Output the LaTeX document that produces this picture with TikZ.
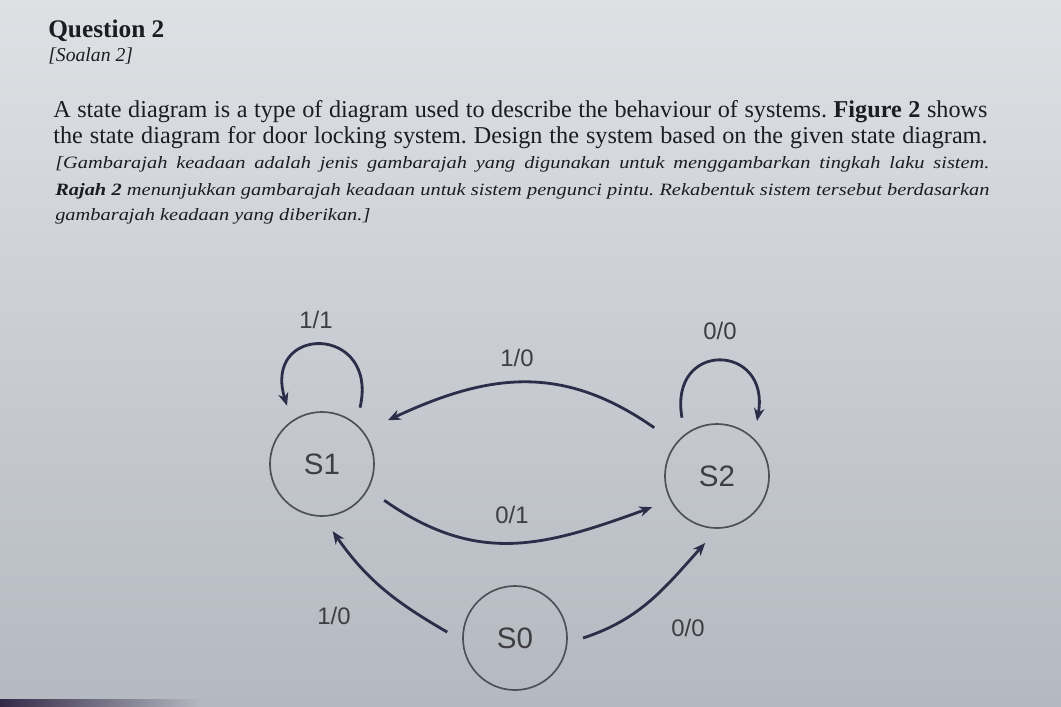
\documentclass[tikz,border=0pt]{standalone}
\usepackage{fontspec}
\setmainfont{Liberation Serif}
\setsansfont{Liberation Sans}
\newfontfamily\wideit[FakeStretch=1.18, UprightFont=*, ItalicFont=* Italic, BoldItalicFont=* Bold Italic]{Liberation Serif}
\usepackage{tikz}
\usetikzlibrary{arrows.meta, positioning}
\frenchspacing
\definecolor{bgtop}{RGB}{222,225,228}
\definecolor{bgbot}{RGB}{180,184,192}
\definecolor{inkdark}{RGB}{28,28,34}
\definecolor{edgecol}{RGB}{42,46,72}
\definecolor{circgrey}{RGB}{78,80,88}
\definecolor{bezel}{RGB}{52,42,72}
\newcommand{\fullline}[1]{\makebox[23.35cm][s]{#1}}
\tikzset{
  state/.style={circle, draw=circgrey, line width=1.2pt,
    minimum size=2.6cm, inner sep=0pt, outer sep=0.4cm,
    font=\sffamily\fontsize{21}{25}\selectfont, text=inkdark!85},
  lbl/.style={font=\sffamily\fontsize{17}{20}\selectfont, text=inkdark!85, inner sep=0pt},
  txtline/.style={anchor=base west, inner sep=0pt, text=inkdark},
  engline/.style={txtline, font=\fontsize{17.2}{20}\selectfont},
  mlyline/.style={txtline, font=\wideit\itshape\fontsize{12.3}{15}\selectfont},
  arrow/.style={-{Stealth[length=0.32cm, width=0.26cm]}, line width=2pt, color=edgecol}
}

\begin{document}
\begin{tikzpicture}[x=0.025cm, y=0.025cm]
  \useasboundingbox (0,0) rectangle (1061,-706);
  \shade[top color=bgtop, bottom color=bgbot] (0,0) rectangle (1061,-706);
  \shade[left color=bezel, right color=bgbot] (0,-699) rectangle (200,-706);

  % question text
  \node[txtline, font=\bfseries\fontsize{18}{21}\selectfont] (q) at (48,-37) {Question 2};
  \node[txtline, font=\itshape\fontsize{14}{17}\selectfont] (qm) at (48,-61) {[Soalan 2]};
  \node[engline] (p1) at (53,-117)
    {\fullline{A state diagram is a type of diagram used to describe the behaviour of systems. \textbf{Figure 2} shows}};
  \node[engline] (p2) at (53,-143)
    {\fullline{the state diagram for door locking system. Design the system based on the given state diagram.}};
  \node[mlyline] (p3) at (55,-168)
    {\fullline{[Gambarajah keadaan adalah jenis gambarajah yang digunakan untuk menggambarkan tingkah laku sistem.}};
  \node[mlyline] (p4) at (55,-195)
    {\fullline{\textbf{Rajah 2} menunjukkan gambarajah keadaan untuk sistem pengunci pintu. Rekabentuk sistem tersebut berdasarkan}};
  \node[mlyline] (p5) at (55,-220)
    {gambarajah keadaan yang diberikan.]};

  % states
  \node[state] (S1) at (322,-464) {S1};
  \node[state] (S2) at (717,-476) {S2};
  \node[state] (S0) at (515,-638) {S0};

  % transitions
  \draw[arrow] (S1.56) to[out=77, in=107, looseness=3] (S1.121);
  \draw[arrow] (S2.121) to[out=100, in=80, looseness=2.7] (S2.54);
  \draw[arrow, shorten <=0.28cm, shorten >=0.28cm] (S2.142) to[out=145, in=25, looseness=1.1] (S1.35);
  \draw[arrow, shorten <=0.1cm, shorten >=0.1cm] (S1.-30) to[out=-35, in=200, looseness=1.1] (S2.206);
  \draw[arrow] (S0.175) to[out=150, in=-55] (S1.-81);
  \draw[arrow] (S0.0) to[out=18, in=228] (S2.-100);

  \node[lbl] (t11) at (316,-320) {1/1};
  \node[lbl] (t21) at (517,-358) {1/0};
  \node[lbl] (t22) at (720,-331) {0/0};
  \node[lbl] (t12) at (512,-515) {0/1};
  \node[lbl] (t01) at (334,-616) {1/0};
  \node[lbl] (t02) at (688,-628) {0/0};
\end{tikzpicture}
\end{document}
